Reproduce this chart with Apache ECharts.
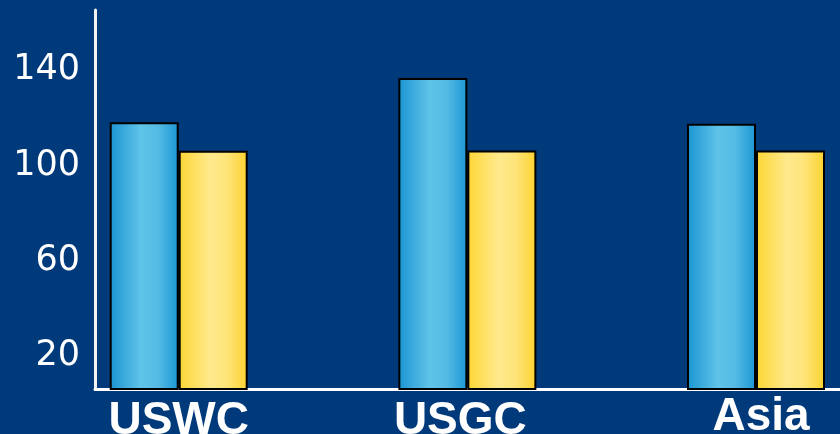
<!DOCTYPE html>
<html>
<head>
<meta charset="utf-8">
<script src="https://cdn.jsdelivr.net/npm/echarts@6/dist/echarts.min.js"></script>
<style>
  html, body { margin: 0; padding: 0; background: #013a7b; }
  #chart { width: 840px; height: 434px; }
</style>
</head>
<body>
<div id="chart"></div>
<script>
// Regions shown along the bottom
const categories = ['USWC', 'USGC', 'Asia'];
// Two bars per region
const blueValues = [116.9, 135.5, 116.3];
const yellowValues = [105.0, 105.1, 105.1];
// Labelled ticks on the vertical axis
const yTicks = [20, 60, 100, 140];

const toPairs = vals => vals.map((v, i) => [i, v]);

const blueFill = new echarts.graphic.LinearGradient(0, 0, 1, 0, [
  { offset: 0, color: '#1a94d3' },
  { offset: 0.45, color: '#60c3e8' },
  { offset: 0.7, color: '#54bbe4' },
  { offset: 1, color: '#1a96d5' }
]);
const yellowFill = new echarts.graphic.LinearGradient(0, 0, 1, 0, [
  { offset: 0, color: '#fdd633' },
  { offset: 0.45, color: '#ffe98c' },
  { offset: 0.7, color: '#fee479' },
  { offset: 1, color: '#fcd22e' }
]);

// Bold region names; small per-label nudges keep them where the layout puts them
const catLabel = {
  color: '#ffffff',
  fontFamily: 'Liberation Sans, Arial, sans-serif',
  fontWeight: 'bold',
  fontSize: 46
};
const catRich = {
  c0: Object.assign({ padding: [4, 0, 0, 0] }, catLabel),
  c1: Object.assign({ padding: [4, 14, 0, 0] }, catLabel),
  c2: Object.assign({ padding: [0, 0, 0, 10] }, catLabel)
};

const chart = echarts.init(document.getElementById('chart'), null, { renderer: 'canvas' });
chart.setOption({
  backgroundColor: '#013a7b',
  animation: false,
  grid: { left: 95, right: 0, top: 10, bottom: 45, outerBoundsMode: 'none', containLabel: false },
  xAxis: {
    type: 'value',
    min: -0.29,
    max: 2.291,
    axisLine: { show: true, onZero: false, lineStyle: { color: '#ffffff', width: 3 } },
    axisTick: { show: false },
    splitLine: { show: false },
    axisLabel: {
      customValues: categories.map((c, i) => i),
      formatter: v => {
        const i = Math.round(v);
        return '{c' + i + '|' + categories[i] + '}';
      },
      rich: catRich,
      margin: 5
    }
  },
  yAxis: {
    type: 'value',
    min: 5,
    max: 164,
    axisLine: { show: true, onZero: false, lineStyle: { color: '#f2f2f2', width: 3 } },
    axisTick: { show: false },
    splitLine: { show: false },
    axisLabel: {
      customValues: yTicks,
      formatter: v => '{n|' + v + '}',
      rich: {
        n: {
          color: '#ffffff',
          fontFamily: 'DejaVu Sans, sans-serif',
          fontSize: 35,
          padding: [6, 0, 0, 0]
        }
      },
      margin: 15
    }
  },
  series: [
    {
      type: 'bar',
      data: toPairs(blueValues),
      barWidth: 69,
      barGap: '0%',
      itemStyle: { color: blueFill, borderColor: '#000000', borderWidth: 2 }
    },
    {
      type: 'bar',
      data: toPairs(yellowValues),
      barWidth: 69,
      barGap: '0%',
      itemStyle: { color: yellowFill, borderColor: '#000000', borderWidth: 2 }
    }
  ]
});
</script>
</body>
</html>
